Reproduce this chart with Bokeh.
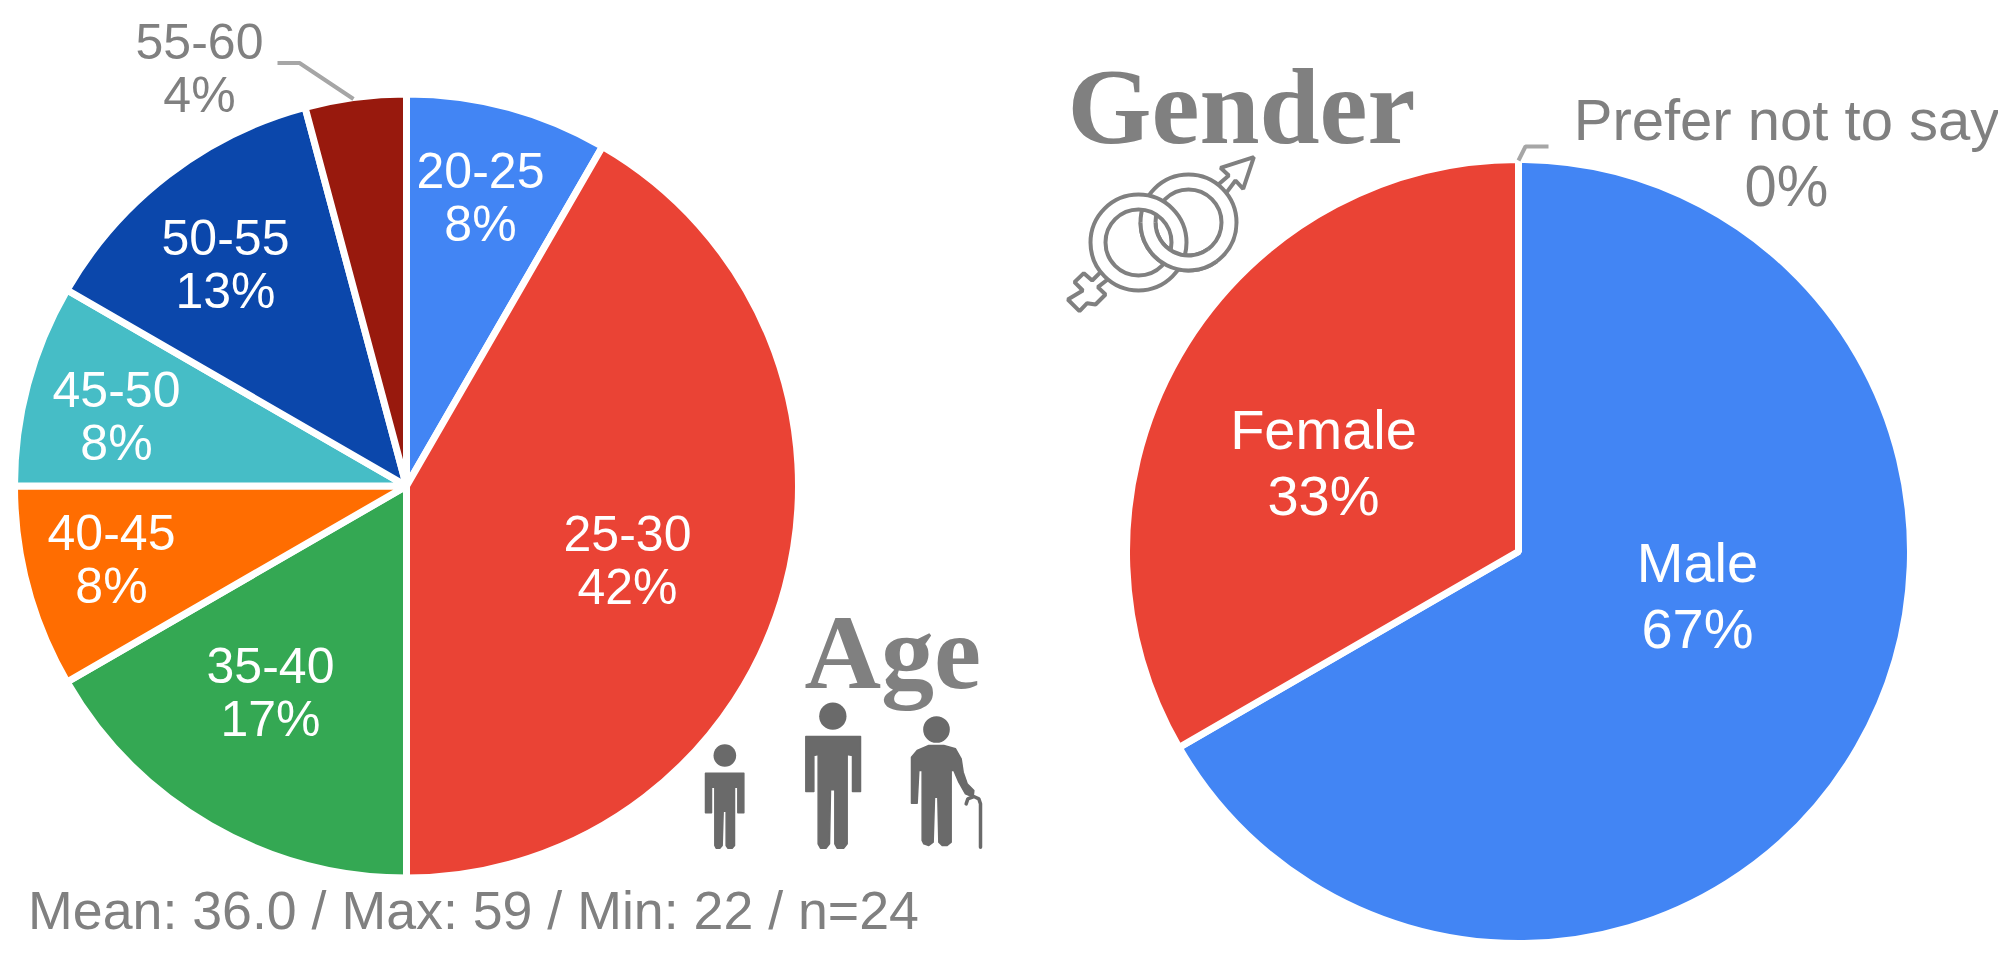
from math import pi

import numpy as np
from bokeh.core.properties import value
from bokeh.embed import file_html
from bokeh.layouts import row
from bokeh.plotting import figure
from bokeh.resources import INLINE

# respondents per group (n=24)
age_groups = ["20-25", "25-30", "35-40", "40-45", "45-50", "50-55", "55-60"]
age_counts = [2, 10, 4, 2, 2, 3, 1]
age_pcts = ["8%", "42%", "17%", "8%", "8%", "13%", "4%"]
age_colors = ["#4285f4", "#ea4335", "#34a853", "#ff6d01", "#46bdc6", "#0b47ab", "#98190d"]
age_text = ["white"] * 6 + ["#808080"]

gender_groups = ["Male", "Female", "Prefer not to say"]
gender_counts = [16, 8, 0]
gender_pcts = ["67%", "33%", "0%"]
gender_colors = ["#4285f4", "#ea4335", "#98190d"]
gender_text = ["white", "white", "#808080"]

summary = "Mean: 36.0 / Max: 59 / Min: 22 / n=24"

# layout, px offsets from each pie centre
age_cx, age_cy = 406, 485.5
gender_cx, gender_cy = 1518, 551
radius = 392
age_lx = [74, 221, -136, -295, -290, -181, -207]
age_ly = [316, -47, -179, -46, 97, 249, 445]
gender_lx = [179, -195, 268]
gender_ly = [-11, 122, 432]
GREY = "#808080"
ICON = "#6a6a6a"
SANS = value("'Liberation Sans', Arial, sans-serif")
SPLIT = 992


def make_pie(left, right, cx, cy, counts, colors):
    p = figure(width=right - left, height=948, output_backend="svg", toolbar_location=None,
               x_range=(left - cx, right - cx), y_range=(cy - 948, cy),
               x_axis_type=None, y_axis_type=None, min_border=0)
    p.outline_line_color = None
    p.grid.visible = False
    fr = np.cumsum([0] + counts) / sum(counts)
    # a slice with no share would be drawn as a full circle
    keep = [i for i, c in enumerate(counts) if c > 0]
    p.wedge(x=0, y=0, radius=radius, start_angle=[pi / 2 - 2 * pi * fr[i] for i in keep],
            end_angle=[pi / 2 - 2 * pi * fr[i + 1] for i in keep], direction="clock",
            fill_color=[colors[i] for i in keep], line_color="white", line_width=7)
    return p


def add_labels(p, xs, ys, top, bottom, colors, size, gap):
    p.text(xs, ys, text=top, text_color=colors, text_font=SANS, text_font_size=size,
           text_align="center", text_baseline="middle")
    p.text(xs, [y - gap for y in ys], text=bottom, text_color=colors, text_font=SANS,
           text_font_size=size, text_align="center", text_baseline="middle")


def title(p, x, y, txt, size):
    p.text([x], [y], text=[txt], text_color=GREY, text_font=value("Liberation Serif"), text_font_style="bold",
           text_font_size=size, text_align="left", text_baseline="middle")


# age icons, traced on a 3x crop whose corner is at 680,580
def ax(vals):
    return [680 + v / 3 - age_cx for v in vals]


def ay(vals):
    return [age_cy - 580 - v / 3 for v in vals]


def icon(p, head_x, head_y, head_r, xs, ys):
    p.circle(ax([head_x]), ay([head_y]), radius=head_r / 3, fill_color=ICON, line_color=None)
    p.patch(ax(xs), ay(ys), fill_color=ICON, line_color=ICON, line_width=1.5, line_join="round")


p1 = make_pie(0, SPLIT, age_cx, age_cy, age_counts, age_colors)
add_labels(p1, age_lx, age_ly, age_groups, age_pcts, age_text, "50px", 54)
p1.line([-129, -107, -53], [423, 423, 387], line_color="#a6a6a6", line_width=4)
p1.text([67], [-424], text=[summary], text_color=GREY, text_font=SANS, text_font_size="53.7px",
        text_align="center", text_baseline="middle")
title(p1, 398, -166.5, "Age", "106px")

icon(p1, 133, 525, 34,
     [75, 190, 190, 172, 172, 162, 162, 155, 142, 137, 137, 128, 125, 118, 107, 103, 103, 93, 93, 75],
     [578, 578, 697, 697, 620, 620, 795, 803, 803, 795, 692, 692, 795, 803, 803, 795, 620, 620, 697, 697])
icon(p1, 457, 407, 41,
     [376, 540, 540, 516, 516, 500, 500, 490, 470, 463, 463, 450, 447, 437, 420, 413, 413, 400, 400, 376],
     [468, 468, 633, 633, 525, 522, 790, 803, 803, 790, 628, 628, 790, 803, 803, 790, 522, 525, 633, 633])
icon(p1, 768, 447, 40,
     [745, 790, 825, 842, 848, 860, 880, 878, 855, 835, 820, 812, 812, 800, 785, 775, 772, 762, 758, 745, 730,
      725, 725, 715, 710, 693, 693, 710],
     [495, 495, 505, 535, 575, 610, 630, 650, 640, 605, 570, 570, 785, 795, 795, 785, 650, 650, 785, 795, 790,
      780, 570, 570, 668, 668, 530, 510])
p1.line(ax([857, 862, 880, 895, 900, 900]), ay([670, 655, 648, 655, 670, 800]), line_color=ICON, line_width=3.5,
        line_cap="round")

p2 = make_pie(SPLIT, 1998, gender_cx, gender_cy, gender_counts, gender_colors)
add_labels(p2, gender_lx[:2], gender_ly[:2], gender_groups[:2], gender_pcts[:2], gender_text[:2], "56px", 66)
add_labels(p2, gender_lx[2:], gender_ly[2:], gender_groups[2:], gender_pcts[2:], gender_text[2:], "58px", 66)
p2.line([0, 7, 30], [391, 405, 405], line_color="#a6a6a6", line_width=4)
title(p2, -451, 445, "Gender", "108px")

# gender symbol, traced on a 3x crop whose corner is at 1040,80
venus_x, venus_y = 1138 - gender_cx, gender_cy - 242
mars_x, mars_y = 1188 - gender_cx, gender_cy - 222
ring = dict(inner_radius=33, outer_radius=48, fill_color="white", line_color=GREY, line_width=4)


def sx(vals):
    return [1040 + v / 3 - gender_cx for v in vals]


def sy(vals):
    return [gender_cy - 80 - v / 3 for v in vals]


arrow_x = [530, 565, 540, 640, 608, 585, 555]
arrow_y = [315, 285, 262, 230, 325, 300, 340]
cross_x = [187, 155, 130, 102, 127, 82, 117, 140, 165, 195, 172, 213]
cross_y = [568, 600, 578, 605, 630, 657, 692, 668, 672, 642, 620, 588]
p2.patch(sx(arrow_x), sy(arrow_y), fill_color="white", line_color=GREY, line_width=4)
p2.patch(sx(cross_x), sy(cross_y), fill_color="white", line_color=GREY, line_width=4)
p2.annulus([mars_x], [mars_y], **ring)
p2.annulus([venus_x], [venus_y], **ring)
p2.annular_wedge([mars_x], [mars_y], inner_radius=33, outer_radius=48, start_angle=pi, end_angle=1.7 * pi,
                 fill_color="white", line_color=None)
p2.arc([mars_x, mars_x], [mars_y, mars_y], radius=[33, 48], start_angle=pi, end_angle=1.7 * pi,
       line_color=GREY, line_width=4)

page = row(p1, p2)
open("out.html", "w").write(file_html(page, INLINE))
